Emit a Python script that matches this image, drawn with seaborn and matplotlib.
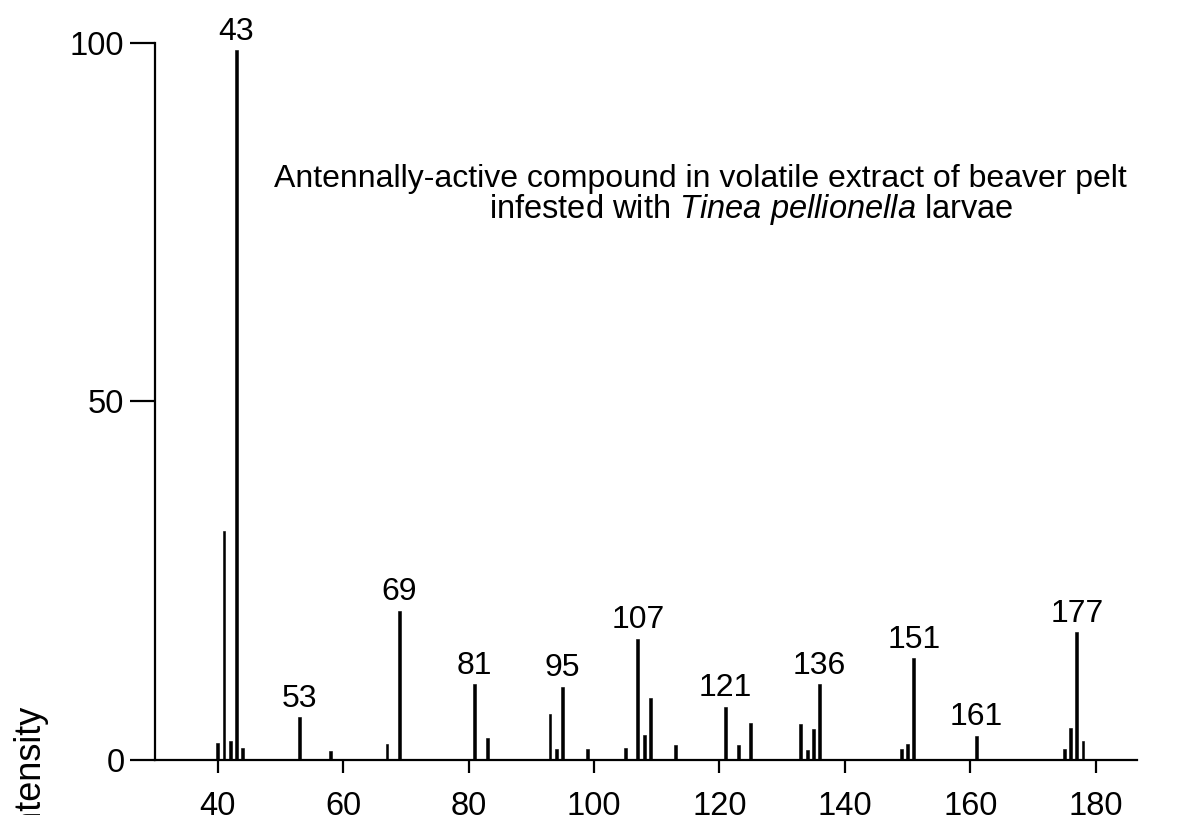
import matplotlib
matplotlib.use("Agg")
import matplotlib.pyplot as plt
import seaborn as sns
import pandas as pd

# Mass spectrum: m/z and relative intensity (%)
mz = [40, 41, 42, 43, 44, 53, 58, 67, 69, 81, 83, 93, 94, 95, 99, 105, 107,
      108, 109, 113, 121, 123, 125, 133, 134, 135, 136, 149, 150, 151, 161,
      175, 176, 177, 178]
intensity = [2.4, 31.9, 2.7, 99.0, 1.7, 6.0, 1.3, 2.3, 20.8, 10.6, 3.1, 6.4,
             1.5, 10.2, 1.6, 1.7, 16.9, 3.5, 8.6, 2.1, 7.4, 2.1, 5.2, 5.0,
             1.4, 4.3, 10.6, 1.5, 2.2, 14.2, 3.4, 1.5, 4.4, 17.8, 2.7]
labeled_ions = [43, 53, 69, 81, 95, 107, 121, 136, 151, 161, 177]

x_ticks = [40, 60, 80, 100, 120, 140, 160, 180]
y_ticks = [0, 50, 100]

title_line1 = "Antennally-active compound in volatile extract of beaver pelt"
title_line2 = r"infested with $\it{Tinea\ pellionella}$ larvae"
y_label = "Relative Intensity"

sns.set_style("ticks")
plt.rcParams["font.family"] = ["Liberation Sans", "DejaVu Sans"]
plt.rcParams["mathtext.fontset"] = "custom"
plt.rcParams["mathtext.rm"] = "Liberation Sans"
plt.rcParams["mathtext.it"] = "Liberation Sans:italic"

df = pd.DataFrame({"mz": mz, "intensity": intensity})

W, H = 1191, 815
fig = plt.figure(figsize=(W / 100, H / 100), dpi=100)
ax = fig.add_axes([155 / W, 1 - 760 / H, (1137 - 155) / W, (760 - 43) / H])

sns.barplot(data=df, x="mz", y="intensity", native_scale=True, width=0.45,
            color="black", edgecolor="black", linewidth=0.4, errorbar=None,
            ax=ax)

ax.set_xlim(30, 186.6)
ax.set_ylim(0, 100)
ax.set_xticks(x_ticks)
ax.set_xticklabels([str(t) for t in x_ticks])
ax.set_yticks(y_ticks)
ax.set_yticklabels([str(t) for t in y_ticks])
ax.set_xlabel("")
ax.set_ylabel("")

for side in ["top", "right"]:
    ax.spines[side].set_visible(False)
for side in ["left", "bottom"]:
    ax.spines[side].set_linewidth(1.6)
    ax.spines[side].set_color("black")

ax.tick_params(axis="y", direction="out", length=18, width=1.6, pad=4,
               labelsize=23.5, colors="black")
ax.tick_params(axis="x", direction="out", length=9.5, width=1.6, pad=12.5,
               labelsize=23.5, colors="black")

# Ion labels above the principal peaks
lookup = dict(zip(mz, intensity))
for ion in labeled_ions:
    ax.annotate(str(ion), (ion, lookup[ion]), xytext=(0, 2.5),
                textcoords="offset points", ha="center", va="bottom",
                fontsize=23, color="black", annotation_clip=False)

fig.text(700 / W, 1 - 187 / H, title_line1, ha="center", va="baseline",
         fontsize=23, color="black")
fig.text(751 / W, 1 - 218 / H, title_line2, ha="center", va="baseline",
         fontsize=23.5, color="black")

fig.text(14 / W, 1 - 707 / H, y_label, rotation=90, ha="left", va="top",
         fontsize=26, color="black")

fig.savefig("out.png", dpi=100, facecolor="white")
